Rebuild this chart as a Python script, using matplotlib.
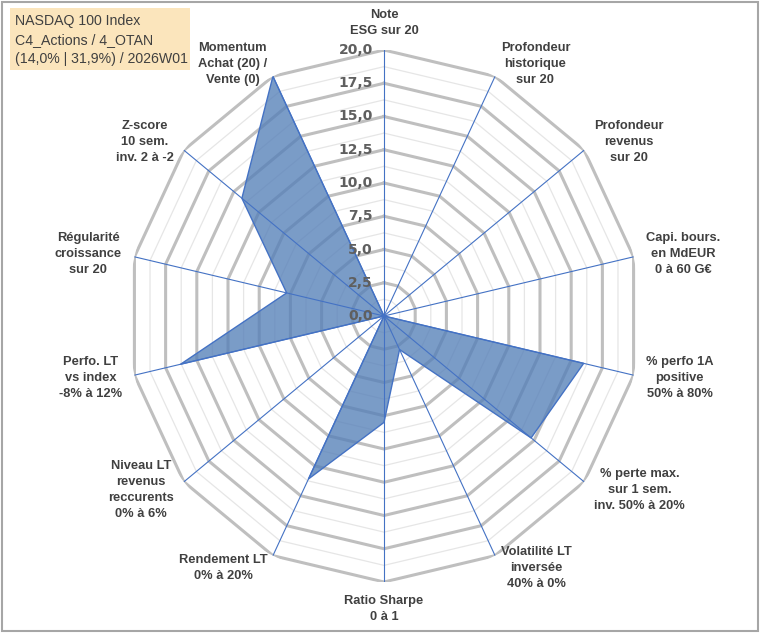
import numpy as np
import matplotlib
matplotlib.use("Agg")
import matplotlib.pyplot as plt
from matplotlib.patches import Rectangle

categories = [
    "Note\nESG sur 20",
    "Profondeur\nhistorique\nsur 20",
    "Profondeur\nrevenus\nsur 20",
    "Capi. bours.\nen MdEUR\n0 à 60 G€",
    "% perfo 1A\npositive\n50% à 80%",
    "% perte max.\nsur 1 sem.\ninv. 50% à 20%",
    "Volatilité LT\ninversée\n40% à 0%",
    "Ratio Sharpe\n0 à 1",
    "Rendement LT\n0% à 20%",
    "Niveau LT\nrevenus\nreccurents\n0% à 6%",
    "Perfo. LT\nvs index\n-8% à 12%",
    "Régularité\ncroissance\nsur 20",
    "Z-score\n10 sem.\ninv. 2 à -2",
    "Momentum\nAchat (20) /\nVente (0)",
]
values = [0, 0, 0, 0, 16.0, 14.7, 2.8, 8.0, 13.6, 0, 16.3, 7.8, 14.2, 20.0]
major_ticks = [0, 2.5, 5, 7.5, 10, 12.5, 15, 17.5, 20]
minor_ticks = [1.25, 3.75, 6.25, 8.75, 11.25, 13.75, 16.25, 18.75]
tick_labels = ["0,0", "2,5", "5,0", "7,5", "10,0", "12,5", "15,0", "17,5", "20,0"]
title_lines = ["NASDAQ 100 Index", "C4_Actions / 4_OTAN", "(14,0% | 31,9%) / 2026W01"]

W, H = 760, 633
fig = plt.figure(figsize=(W / 100, H / 100), dpi=100)
cx, cy, rx, ry = 384, 316, 256, 266
ax = fig.add_axes([(cx - rx) / W, (H - cy - ry) / H, 2 * rx / W, 2 * ry / H],
                  projection="polar")
ax.set_aspect("auto")
ax.set_theta_zero_location("N")
ax.set_theta_direction(-1)
ax.set_ylim(0, 20)
ax.grid(False)
ax.spines["polar"].set_visible(False)
ax.set_xticks([])
ax.set_yticks([])
ax.patch.set_alpha(0)

n = len(categories)
theta = np.arange(n) * 2 * np.pi / n
theta_c = np.append(theta, theta[0])

for r in minor_ticks:
    ax.plot(theta_c, [r] * (n + 1), color="#e6e6e6", lw=0.9, zorder=1)
for r in major_ticks[1:]:
    ax.plot(theta_c, [r] * (n + 1), color="#bfbfbf", lw=2.2, zorder=1.5)

vals_c = np.append(values, values[0])
ax.fill(theta_c, vals_c, facecolor="#5580b8", alpha=0.78, zorder=2)
ax.plot(theta_c, vals_c, color="#4472c4", lw=1.0, zorder=3)

for t in theta:
    ax.plot([t, t], [0, 20], color="#4472c4", lw=0.8, zorder=4)

for r, lab in zip(major_ticks, tick_labels):
    ax.annotate(lab, xy=(0, r), xytext=(-8, 0), textcoords="offset points",
                ha="right", va="center", fontsize=10, fontweight="bold",
                color="#5f5f5f", family="DejaVu Sans", zorder=5)

for t, lab in zip(theta, categories):
    s, c = np.sin(t), np.cos(t)
    if abs(s) < 0.1:
        ha = "center"
        va = "bottom" if c > 0 else "top"
    else:
        ha = "left" if s > 0 else "right"
        va = "center"
    ax.text(t, 21.0, lab, ha=ha, va=va, multialignment="center",
            fontsize=9.3, fontweight="bold", color="#404040",
            family="Liberation Sans", linespacing=1.45, zorder=5)

fig.patches.append(Rectangle((10 / W, 1 - 70 / H), 180 / W, 62 / H,
                             transform=fig.transFigure, facecolor="#fbe5bc",
                             edgecolor="none", zorder=0))
for i, line in enumerate(title_lines):
    fig.text(15 / W, 1 - (21 + 19 * i) / H, line, ha="left", va="center",
             fontsize=10.2, color="#404040", family="Liberation Sans")

fig.patches.append(Rectangle((2 / W, 2 / H), (W - 4) / W, (H - 4) / H,
                             transform=fig.transFigure, facecolor="none",
                             edgecolor="#a6a6a6", lw=1.5))

fig.savefig("out.png", dpi=100)
